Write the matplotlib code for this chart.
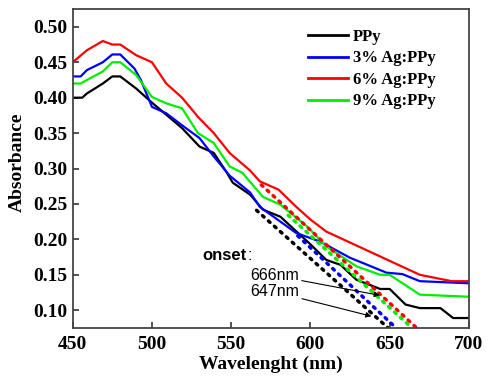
import matplotlib.pyplot as plt

# PPy
wl_ppy = [450, 456, 459, 469, 475, 480, 490, 500, 509, 519, 530, 539, 547, 551, 562, 570,
          581, 600, 610, 619, 629, 644, 650, 660, 669, 682, 690, 700]
abs_ppy = [0.400, 0.400, 0.406, 0.420, 0.430, 0.430, 0.413, 0.393, 0.376, 0.357, 0.331, 0.322,
           0.295, 0.280, 0.263, 0.242, 0.232, 0.193, 0.171, 0.164, 0.143, 0.130, 0.130, 0.108,
           0.103, 0.103, 0.089, 0.089]

# 3% Ag:PPy
wl_3 = [450, 455, 459, 469, 475, 480, 489, 493, 500, 509, 519, 530, 539, 549, 562, 568,
        591, 606, 625, 648, 658, 669, 700]
abs_3 = [0.430, 0.430, 0.439, 0.450, 0.461, 0.461, 0.441, 0.425, 0.387, 0.378, 0.361, 0.343,
         0.317, 0.290, 0.266, 0.246, 0.209, 0.197, 0.174, 0.153, 0.151, 0.141, 0.138]

# 6% Ag:PPy
wl_6 = [450, 459, 469, 475, 480, 490, 500, 509, 519, 529, 539, 549, 562, 568, 580, 591,
        600, 610, 669, 689, 700]
abs_6 = [0.450, 0.467, 0.480, 0.475, 0.475, 0.460, 0.450, 0.420, 0.400, 0.373, 0.350, 0.322,
         0.297, 0.282, 0.270, 0.246, 0.228, 0.211, 0.150, 0.141, 0.141]

# 9% Ag:PPy
wl_9 = [450, 455, 459, 469, 475, 480, 490, 500, 509, 519, 529, 539, 549, 557, 570, 581,
        598, 610, 629, 644, 650, 669, 700]
abs_9 = [0.420, 0.420, 0.425, 0.437, 0.450, 0.450, 0.432, 0.401, 0.392, 0.385, 0.350, 0.336,
         0.303, 0.294, 0.260, 0.249, 0.218, 0.190, 0.162, 0.150, 0.150, 0.122, 0.119]

# onset tangent lines (start point, x-intercept at bottom)
tan_ppy = ([566, 649], [0.241, 0.075])
tan_3 = ([592, 654], [0.205, 0.075])
tan_6 = ([569, 667], [0.277, 0.075])
tan_9 = ([586, 664], [0.234, 0.075])

labels = ["PPy", "3% Ag:PPy", "6% Ag:PPy", "9% Ag:PPy"]
colors = ["black", "#0000ff", "#ff0000", "#00ee00"]

serif = "Liberation Serif"
sans = "Liberation Sans"

fig = plt.figure(figsize=(4.89, 3.80), dpi=100)
ax = fig.add_axes([0.1487, 0.137, 0.8103, 0.839])

curves = [(wl_ppy, abs_ppy), (wl_3, abs_3), (wl_6, abs_6), (wl_9, abs_9)]
for (x, y), c, lab in zip(curves, colors, labels):
    ax.plot(x, y, color=c, lw=1.6, label=lab)

for (x, y), c in zip([tan_6, tan_9, tan_3, tan_ppy], [colors[2], colors[3], colors[1], colors[0]]):
    ax.plot(x, y, color=c, lw=2.5, linestyle=(0, (0.6, 1.7)), dash_capstyle="round")

ax.set_xlim(450, 700)
ax.set_ylim(0.075, 0.525)
ax.set_xticks([450, 500, 550, 600, 650, 700])
ax.set_yticks([0.10, 0.15, 0.20, 0.25, 0.30, 0.35, 0.40, 0.45, 0.50])
ax.set_yticklabels(["%.2f" % v for v in ax.get_yticks()])
ax.tick_params(direction="in", length=4, width=1.2, color="#333333")
ax.tick_params(axis="y", pad=4)
ax.tick_params(axis="x", pad=6)
for t in ax.get_xticklabels() + ax.get_yticklabels():
    t.set_fontfamily(serif)
    t.set_fontweight("bold")
    t.set_fontsize(14)
for s in ax.spines.values():
    s.set_color("#444444")
    s.set_linewidth(1.3)

ax.set_xlabel("Wavelenght (nm)", fontfamily=serif, fontweight="bold", fontsize=14, labelpad=2)
ax.set_ylabel("Absorbance", fontfamily=serif, fontweight="bold", fontsize=14, labelpad=4)
ax.yaxis.set_label_coords(-0.118, 0.52)

leg = ax.legend(loc="upper left", bbox_to_anchor=(0.555, 0.985), frameon=False,
                handlelength=2.4, handletextpad=0.3, labelspacing=0.33,
                prop={"family": serif, "weight": "bold", "size": 12})
for line in leg.get_lines():
    line.set_linewidth(2.0)

onset = ax.text(531.5, 0.177, "onset", fontfamily=sans, fontweight="bold", fontsize=12, va="center")
ax.annotate(":", xy=(1, 0.5), xycoords=onset, xytext=(1, 0), textcoords="offset points",
            fontfamily=sans, fontsize=12, va="center")
ax.annotate("666nm", xy=(643.8, 0.121), xytext=(562.0, 0.149), fontfamily=sans, fontsize=11.5,
            va="center", arrowprops=dict(arrowstyle="-|>", color="black", lw=0.8,
                                         shrinkA=0, shrinkB=0, mutation_scale=8))
ax.annotate("647nm", xy=(638.5, 0.0915), xytext=(562.0, 0.126), fontfamily=sans, fontsize=11.5,
            va="center", arrowprops=dict(arrowstyle="-|>", color="black", lw=0.8,
                                         shrinkA=0, shrinkB=0, mutation_scale=8))

fig.savefig("out.png", dpi=100)
